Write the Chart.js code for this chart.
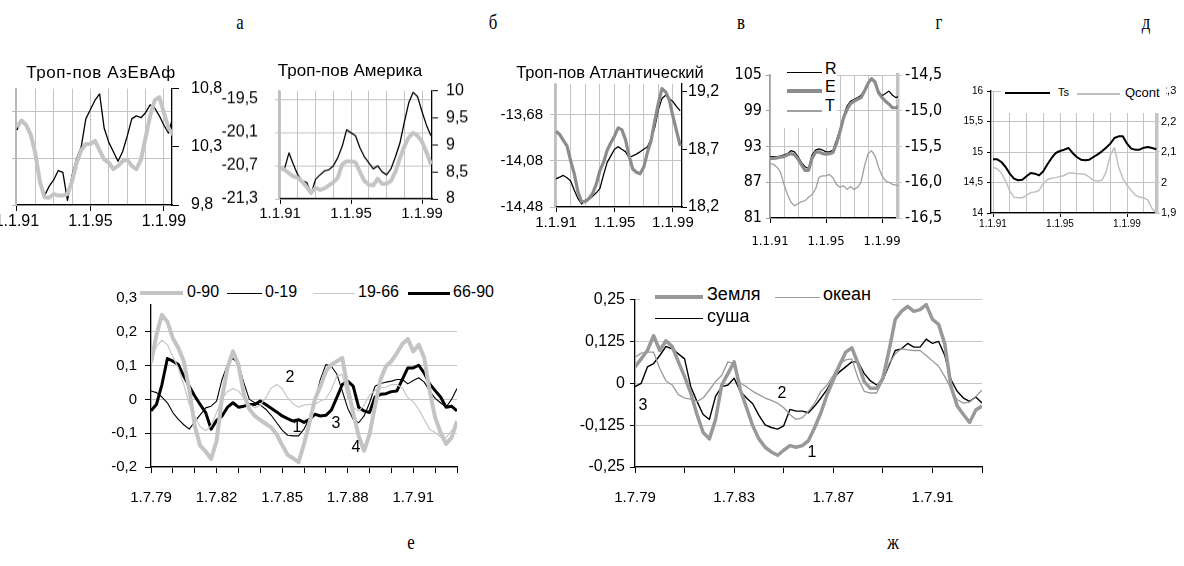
<!DOCTYPE html>
<html lang="ru">
<head>
<meta charset="UTF-8">
<title>Тропосфера и приземная температура</title>
<style>
  html, body { margin: 0; padding: 0; background: #fff; }
  #page { position: relative; width: 1184px; height: 566px; overflow: hidden; font-family: 'Liberation Sans', Arial, sans-serif; color: #000; }
  #page canvas { position: absolute; }
  .t { position: absolute; transform: translate(0, -50%); line-height: 1; white-space: nowrap; }
  .c { position: absolute; transform: translate(-50%, -50%); line-height: 1; white-space: nowrap; }
  .let { position: absolute; transform: translate(-50%, -50%) scaleX(0.8); font-family: 'Liberation Serif', 'DejaVu Serif', serif; font-size: 21px; line-height: 1; }
  .box { position: absolute; background: #fff; }
  .ln { position: absolute; }
</style>
<script src="https://cdn.jsdelivr.net/npm/chart.js"></script>
</head>
<body>
<div id="page">
  <div id="charts"></div>

  <div class="let" style="left:240px;top:22px">а</div>
  <div class="let" style="left:493px;top:22px">б</div>
  <div class="let" style="left:741px;top:22px">в</div>
  <div class="let" style="left:939px;top:22px">г</div>
  <div class="let" style="left:1146px;top:22px">д</div>
  <div class="let" style="left:411px;top:542px">е</div>
  <div class="let" style="left:893px;top:542px">ж</div>

  <div class="c" style="left:101px;top:72px;font-size:17px;letter-spacing:0.6px">Троп-пов АзЕвАф</div>
  <div class="c" style="left:350px;top:70px;font-size:17px">Троп-пов Америка</div>
  <div class="c" style="left:610px;top:72px;font-size:16.5px">Троп-пов Атлантический</div>

  <!-- legend г -->
  <div class="box" style="left:771px;top:58px;width:66px;height:70px"></div>
  <div class="ln" style="left:787px;top:72px;width:35px;height:1.3px;background:#000"></div>
  <div class="ln" style="left:787px;top:89px;width:35px;height:3.5px;background:#8c8c8c"></div>
  <div class="ln" style="left:787px;top:110px;width:35px;height:1.5px;background:#a0a0a0"></div>
  <div class="t" style="left:825px;top:69px;font-size:16px">R</div>
  <div class="t" style="left:825px;top:87px;font-size:16px">E</div>
  <div class="t" style="left:825px;top:106px;font-size:16px">T</div>

  <!-- legend д -->
  <div class="box" style="left:1001px;top:82px;width:165px;height:31px"></div>
  <div class="ln" style="left:1005px;top:92px;width:45px;height:2px;background:#000"></div>
  <div class="t" style="left:1058px;top:92px;font-size:11px">Ts</div>
  <div class="ln" style="left:1077px;top:93px;width:43px;height:1.5px;background:#c0c0c0"></div>
  <div class="t" style="left:1125px;top:92px;font-size:13px">Qcont</div>

  <!-- legend е -->
  <div class="box" style="left:140px;top:283px;width:362px;height:21px"></div>
  <div class="ln" style="left:140px;top:291px;width:43px;height:4px;background:#c4c4c4"></div>
  <div class="t" style="left:187px;top:292px;font-size:16px">0-90</div>
  <div class="ln" style="left:227px;top:292.5px;width:35px;height:1px;background:#000"></div>
  <div class="t" style="left:265px;top:292px;font-size:16px">0-19</div>
  <div class="ln" style="left:313px;top:292.5px;width:42px;height:1px;background:#c8c8c8"></div>
  <div class="t" style="left:358px;top:292px;font-size:16px">19-66</div>
  <div class="ln" style="left:408px;top:291.5px;width:42px;height:3px;background:#000"></div>
  <div class="t" style="left:453px;top:292px;font-size:16px">66-90</div>

  <!-- legend ж -->
  <div class="box" style="left:640px;top:283px;width:252px;height:42px"></div>
  <div class="ln" style="left:655px;top:295px;width:48px;height:3.5px;background:#999"></div>
  <div class="t" style="left:707px;top:294px;font-size:18px">Земля</div>
  <div class="ln" style="left:775px;top:296.5px;width:45px;height:1.5px;background:#999"></div>
  <div class="t" style="left:823px;top:294px;font-size:18px">океан</div>
  <div class="ln" style="left:655px;top:317.5px;width:48px;height:1.5px;background:#000"></div>
  <div class="t" style="left:707px;top:316px;font-size:18px">суша</div>

  <!-- curve numbers -->
  <div class="c" style="left:290px;top:377px;font-size:16px">2</div>
  <div class="c" style="left:297px;top:427px;font-size:16px">1</div>
  <div class="c" style="left:336px;top:423px;font-size:16px">3</div>
  <div class="c" style="left:356px;top:447px;font-size:16px">4</div>
  <div class="c" style="left:782px;top:393px;font-size:16px">2</div>
  <div class="c" style="left:812px;top:452px;font-size:16px">1</div>
  <div class="c" style="left:643px;top:405px;font-size:16px">3</div>
</div>

<script>
// quarter-year time points
const quarters91 = [1991, 1991.25, 1991.5, 1991.75, 1992, 1992.25, 1992.5, 1992.75, 1993, 1993.25, 1993.5, 1993.75,
  1994, 1994.25, 1994.5, 1994.75, 1995, 1995.25, 1995.5, 1995.75, 1996, 1996.25, 1996.5, 1996.75,
  1997, 1997.25, 1997.5, 1997.75, 1998, 1998.25, 1998.5, 1998.75, 1999, 1999.25, 1999.5, 1999.75,
  2000, 2000.25, 2000.5, 2000.75];
const quarters79 = [1979.5, 1979.75, 1980, 1980.25, 1980.5, 1980.75, 1981, 1981.25, 1981.5, 1981.75,
  1982, 1982.25, 1982.5, 1982.75, 1983, 1983.25, 1983.5, 1983.75, 1984, 1984.25, 1984.5, 1984.75,
  1985, 1985.25, 1985.5, 1985.75, 1986, 1986.25, 1986.5, 1986.75, 1987, 1987.25, 1987.5, 1987.75,
  1988, 1988.25, 1988.5, 1988.75, 1989, 1989.25, 1989.5, 1989.75, 1990, 1990.25, 1990.5, 1990.75,
  1991, 1991.25, 1991.5, 1991.75, 1992, 1992.25, 1992.5, 1992.75, 1993, 1993.25, 1993.5];

// tick positions and labelled ticks
const years91to99 = [1991, 1992, 1993, 1994, 1995, 1996, 1997, 1998, 1999];
const years91to00 = [1991, 1992, 1993, 1994, 1995, 1996, 1997, 1998, 1999, 2000];
const labelYears91 = [1991, 1995, 1999];
const yearsE = [1979.5, 1980.5, 1981.5, 1982.5, 1983.5, 1984.5, 1985.5, 1986.5, 1987.5, 1988.5, 1989.5, 1990.5, 1991.5, 1992.5, 1993.5];
const labelYearsE = [1979.5, 1982.5, 1985.5, 1988.5, 1991.5];
const yearsZh = [1979.5, 1981.5, 1983.5, 1985.5, 1987.5, 1989.5, 1991.5, 1993.5];
const labelYearsZh = [1979.5, 1983.5, 1987.5, 1991.5];

// а: Троп-пов АзЕвАф
const azevafTicks = [9.8, 10.3, 10.8];
const azevafBlack = [10.445, 10.526, 10.499, 10.418, 10.23, 9.975, 9.88, 9.96, 10.015, 10.096, 10.08, 9.84, 10.055, 10.2, 10.3,
  10.54, 10.62, 10.7, 10.754, 10.459, 10.338, 10.257, 10.176, 10.257, 10.39, 10.54, 10.566, 10.55, 10.593, 10.66,
  10.633, 10.566, 10.485, 10.418, 10.566];
const azevafGray = [10.472, 10.526, 10.486, 10.405, 10.244, 10.002, 9.867, 9.862, 9.894, 9.881, 9.881, 9.894, 10.002, 10.163,
  10.27, 10.324, 10.324, 10.351, 10.27, 10.19, 10.163, 10.109, 10.136, 10.176, 10.19, 10.136, 10.109, 10.19, 10.378,
  10.566, 10.7, 10.727, 10.593, 10.459, 10.405];

// б: Троп-пов Америка
const americaLeftTicks = [-21.3, -20.7, -20.1, -19.5];
const americaRightTicks = [8, 8.5, 9, 9.5, 10];
const americaBlack = [8.572, 8.556, 8.85, 8.639, 8.444, 8.333, 8.306, 8.094, 8.361, 8.444, 8.517, 8.539, 8.611, 8.761, 8.972,
  9.278, 9.222, 9.167, 8.944, 8.778, 8.667, 8.556, 8.611, 8.5, 8.444, 8.556, 8.778, 9.028, 9.417, 9.778, 9.972,
  9.889, 9.611, 9.361, 9.167];
const americaGray = [8.572, 8.539, 8.472, 8.417, 8.389, 8.317, 8.222, 8.111, 8.206, 8.167, 8.194, 8.25, 8.306, 8.389, 8.639,
  8.694, 8.694, 8.678, 8.5, 8.333, 8.261, 8.25, 8.372, 8.278, 8.278, 8.333, 8.5, 8.75, 8.972, 9.139, 9.222, 9.167,
  9.056, 8.861, 8.639];

// в: Троп-пов Атлантический
const atlLeftTicks = [-14.48, -14.08, -13.68];
const atlRightTicks = [18.2, 18.7, 19.2];
const atlBlack = [18.445, 18.459, 18.474, 18.454, 18.425, 18.345, 18.274, 18.226, 18.26, 18.266, 18.294, 18.323, 18.36, 18.479,
  18.587, 18.644, 18.701, 18.724, 18.701, 18.681, 18.63, 18.644, 18.659, 18.679, 18.701, 18.721, 18.787, 18.887,
  19.043, 19.143, 19.171, 19.143, 19.115, 19.072, 19.035];
const atlGray = [18.858, 18.83, 18.778, 18.73, 18.602, 18.488, 18.331, 18.246, 18.246, 18.274, 18.317, 18.397, 18.516, 18.587,
  18.693, 18.758, 18.815, 18.887, 18.872, 18.787, 18.644, 18.53, 18.502, 18.488, 18.545, 18.673, 18.773, 18.944, 19.1,
  19.228, 19.2, 19.129, 18.986, 18.858, 18.73];

// г: R, E, T
const gLeftTicks = [81, 87, 93, 99, 105];
const gRightTicks = [-16.5, -16, -15.5, -15, -14.5];
const seriesR = [91.3, 91.3, 91.3, 91.4, 91.6, 91.8, 92.3, 92.1, 91.3, 90.3, 89.6, 89.3, 91.6, 92.4, 92.6, 92.4, 92.1, 92.1, 92.4,
  94.1, 95.8, 98.1, 99.8, 100.6, 100.9, 101.2, 101.6, 102.5, 103.7, 104.4, 104.0, 102.3, 101.5, 101.9, 102.3, 101.6, 101.2, 101.5];
const seriesE = [91.0, 91.0, 91.1, 91.2, 91.3, 91.6, 91.8, 91.6, 90.9, 89.9, 89.0, 89.0, 91.0, 92.0, 92.1, 91.8, 91.7, 91.8, 92.0,
  93.5, 95.5, 97.8, 99.2, 100.2, 100.6, 100.9, 101.2, 102.3, 103.6, 104.4, 103.8, 102.0, 101.2, 100.6, 100.1, 99.5, 99.5, 99.8];
const seriesT = [-15.74, -15.75, -15.79, -15.86, -16.03, -16.17, -16.28, -16.33, -16.30, -16.27, -16.26, -16.21, -16.17, -16.10,
  -15.93, -15.91, -15.91, -15.89, -15.94, -16.03, -16.07, -16.05, -16.10, -16.06, -16.10, -16.07, -16.00, -15.77, -15.60,
  -15.56, -15.63, -15.79, -15.91, -15.98, -16.00, -16.03, -16.04, -16.06];

// д: Ts, Qcont
const dLeftTicks = [14, 14.5, 15, 15.5, 16];
const dRightTicks = [1.9, 2, 2.1, 2.2, 2.3];
const seriesTs = [14.88, 14.88, 14.836, 14.754, 14.645, 14.563, 14.536, 14.546, 14.601, 14.656, 14.645, 14.617, 14.683, 14.798,
  14.902, 14.984, 15.016, 15.038, 15.066, 14.984, 14.918, 14.874, 14.863, 14.874, 14.918, 14.962, 15.011, 15.071, 15.137,
  15.23, 15.257, 15.257, 15.137, 15.055, 15.038, 15.038, 15.071, 15.082, 15.066, 15.044];
const seriesQcont = [2.049, 2.045, 2.031, 2.005, 1.972, 1.952, 1.95, 1.95, 1.958, 1.967, 1.969, 1.974, 1.996, 2.01, 2.014, 2.016,
  2.02, 2.023, 2.031, 2.031, 2.029, 2.029, 2.027, 2.018, 2.007, 2.005, 2.007, 2.034, 2.089, 2.114, 2.051, 2.013, 1.991,
  1.974, 1.958, 1.952, 1.95, 1.942, 1.914, 1.9];

// е: latitude belts
const eTicks = [-0.2, -0.1, 0, 0.1, 0.2, 0.3];
const belt0090 = [0.108, 0.191, 0.25, 0.23, 0.181, 0.152, 0.113, 0.029, -0.078, -0.137, -0.154, -0.176, -0.123, 0.005, 0.093,
  0.142, 0.103, 0.015, -0.029, -0.049, -0.061, -0.072, -0.083, -0.103, -0.135, -0.164, -0.174, -0.186, -0.132, -0.069,
  0.0, 0.039, 0.083, 0.103, 0.113, 0.123, 0.034, -0.039, -0.108, -0.152, -0.103, -0.02, 0.059, 0.098, 0.113, 0.137,
  0.164, 0.179, 0.142, 0.162, 0.123, 0.025, -0.054, -0.098, -0.132, -0.113, -0.064];
const belt0019 = [0.025, 0.02, 0.007, -0.01, -0.039, -0.059, -0.075, -0.088, -0.066, -0.046, -0.025, -0.02, -0.005, 0.059, 0.103,
  0.121, 0.105, 0.049, 0.0, -0.01, -0.017, -0.029, -0.047, -0.069, -0.091, -0.106, -0.108, -0.108, -0.088, -0.054,
  -0.005, 0.059, 0.103, 0.098, 0.075, 0.025, -0.026, -0.059, -0.069, -0.049, -0.01, 0.039, 0.047, 0.051, 0.054, 0.059,
  0.059, 0.046, 0.056, 0.064, 0.051, 0.025, 0.003, -0.01, -0.023, 0.0, 0.032];
const belt1966 = [0.113, 0.157, 0.175, 0.162, 0.127, 0.093, 0.044, -0.015, -0.049, -0.081, -0.093, -0.078, -0.039, 0.003, 0.023,
  0.032, 0.025, 0.003, -0.015, -0.025, -0.017, 0.005, 0.034, 0.044, 0.032, 0.005, -0.013, -0.023, -0.017, -0.015,
  -0.015, -0.005, 0.002, 0.029, 0.069, 0.074, 0.005, -0.023, -0.034, -0.017, 0.013, 0.026, 0.034, 0.036, 0.044, 0.044,
  0.034, 0.005, -0.007, -0.029, -0.059, -0.088, -0.098, -0.111, -0.113, -0.093, -0.074];
const belt6690 = [-0.034, -0.015, 0.044, 0.121, 0.113, 0.103, 0.069, 0.039, 0.01, -0.015, -0.039, -0.088, -0.062, -0.049, -0.023,
  -0.01, -0.023, -0.02, -0.015, -0.015, -0.005, -0.015, -0.026, -0.037, -0.049, -0.057, -0.064, -0.06, -0.068, -0.059,
  -0.044, -0.049, -0.047, -0.032, 0.005, 0.044, 0.054, 0.039, -0.023, -0.034, -0.039, 0.007, 0.015, 0.017, 0.023, 0.025,
  0.059, 0.093, 0.093, 0.101, 0.078, 0.046, 0.026, 0.007, -0.023, -0.02, -0.034];

// ж: Земля, океан, суша
const zhTicks = [-0.25, -0.125, 0, 0.125, 0.25];
const earth = [0.049, 0.073, 0.098, 0.142, 0.098, 0.127, 0.11, 0.064, 0.02, -0.029, -0.093, -0.147, -0.166, -0.108, -0.005, 0.029,
  0.064, -0.02, -0.073, -0.127, -0.166, -0.191, -0.205, -0.215, -0.2, -0.186, -0.191, -0.186, -0.171, -0.132, -0.088,
  -0.034, 0.01, 0.054, 0.093, 0.106, 0.059, 0.005, -0.015, -0.015, 0.015, 0.098, 0.191, 0.215, 0.23, 0.215, 0.22, 0.235,
  0.191, 0.176, 0.117, -0.01, -0.068, -0.093, -0.117, -0.08, -0.068];
const ocean = [0.078, 0.09, 0.093, 0.093, 0.044, 0.007, -0.005, -0.034, -0.044, -0.047, -0.054, -0.044, -0.02, 0.005, 0.024, 0.064,
  0.059, 0.0, -0.01, -0.024, -0.034, -0.044, -0.051, -0.059, -0.073, -0.093, -0.108, -0.103, -0.083, -0.059, -0.024,
  -0.005, 0.024, 0.059, 0.07, 0.073, 0.015, -0.024, -0.029, -0.029, 0.01, 0.059, 0.088, 0.103, 0.1, 0.098, 0.098, 0.083,
  0.067, 0.051, 0.02, -0.015, -0.049, -0.059, -0.056, -0.039, -0.02];
const land = [-0.01, 0.0, 0.049, 0.059, 0.083, 0.11, 0.103, 0.088, 0.073, -0.01, -0.054, -0.093, -0.108, -0.039, -0.01, -0.005,
  0.015, -0.024, -0.044, -0.061, -0.096, -0.124, -0.132, -0.137, -0.127, -0.078, -0.083, -0.083, -0.088, -0.068, -0.044,
  -0.018, 0.015, 0.034, 0.049, 0.064, 0.064, 0.029, 0.007, -0.005, 0.01, 0.054, 0.098, 0.103, 0.119, 0.108, 0.108, 0.132,
  0.119, 0.125, 0.083, 0.01, -0.024, -0.044, -0.054, -0.041, -0.059];

const SANS = "'Liberation Sans', Arial, sans-serif";
const NARROW = "'Liberation Sans Narrow', 'DejaVu Sans Condensed', 'Liberation Sans', sans-serif";
Chart.defaults.font.family = SANS;
Chart.defaults.color = '#000';

function comma(v, d) {
  const s = d == null ? String(+v.toFixed(3)) : v.toFixed(d);
  return s.replace('.', ',');
}
const fmt91 = v => '1.1.' + String(v).slice(2);
const fmtJul = v => '1.7.' + String(Math.floor(v)).slice(2);

function line(xs, ys, color, width, axis) {
  return {
    data: ys.map((y, i) => ({ x: xs[i], y: y })),
    borderColor: color, borderWidth: width, pointRadius: 0, tension: 0,
    fill: false, yAxisID: axis, borderJoinStyle: 'round'
  };
}

function xAxis(o) {
  return {
    type: 'linear', position: 'bottom', min: o.min, max: o.max,
    afterBuildTicks: a => { a.ticks = o.grid.map(v => ({ value: v })); },
    afterFit: s => { s.height = o.height; },
    ticks: {
      autoSkip: false, maxRotation: 0, padding: o.pad,
      font: { family: o.family || SANS, size: o.size },
      callback: v => o.labels.includes(v) ? o.fmt(v) : ''
    },
    grid: {
      drawOnChartArea: !!o.vgrid, color: '#c4c4c4', lineWidth: 1, tickLength: o.tick,
      tickColor: ctx => (o.allTicks || (ctx.tick && o.labels.includes(ctx.tick.value))) ? '#000' : 'rgba(0,0,0,0)'
    },
    border: { color: '#000', width: 1.3 }
  };
}

function yAxis(o) {
  return {
    type: 'linear', position: o.pos, min: o.min, max: o.max,
    afterBuildTicks: a => { a.ticks = o.ticks.map(v => ({ value: v })); },
    afterFit: s => { s.width = o.width; },
    ticks: {
      padding: o.pad, font: { family: o.family || SANS, size: o.size },
      callback: v => o.hide ? '' : comma(v, o.dec)
    },
    grid: { drawOnChartArea: !!o.hgrid, color: '#c4c4c4', lineWidth: 1, tickLength: o.tick, tickColor: o.axisColor || '#000' },
    border: { color: o.axisColor || '#000', width: o.axisWidth || 1.3 }
  };
}

function panel(b, datasets, scales) {
  const c = document.createElement('canvas');
  const W = b.w + b.pl + b.pr, H = b.h + b.pt + b.pb;
  c.width = W; c.height = H;
  c.style.left = (b.l - b.pl) + 'px';
  c.style.top = (b.t - b.pt) + 'px';
  c.style.width = W + 'px';
  c.style.height = H + 'px';
  document.getElementById('charts').appendChild(c);
  return new Chart(c, {
    type: 'line',
    data: { datasets },
    options: {
      responsive: false, animation: false, devicePixelRatio: 1,
      layout: { padding: { top: b.pt, left: 0, right: b.padR || 0, bottom: 0 } },
      plugins: { legend: { display: false }, tooltip: { enabled: false } },
      scales
    }
  });
}

// а
panel({ l: 16, t: 81, w: 156, h: 124, pl: 40, pr: 50, pt: 14, pb: 30 }, [
  line(quarters91, azevafGray, '#c4c4c4', 4, 'yR'),
  line(quarters91, azevafBlack, '#000', 1.3, 'yR')
], {
  x: xAxis({ min: 1990.95, max: 1999.44, grid: years91to99, labels: labelYears91, fmt: fmt91, height: 30, tick: 6, pad: 1, size: 16, vgrid: true }),
  yL: yAxis({ pos: 'left', min: 0, max: 2.48, ticks: [0, 1, 2], width: 40, tick: 4, pad: 2, size: 14, hide: true, hgrid: true, axisColor: '#b8b8b8', axisWidth: 2 }),
  yR: yAxis({ pos: 'right', min: 9.8, max: 10.8, ticks: azevafTicks, width: 50, tick: 7, pad: 12, size: 16 })
});

// б
panel({ l: 279, t: 78, w: 153, h: 120.5, pl: 75, pr: 45, pt: 14, pb: 30 }, [
  line(quarters91, americaGray, '#c4c4c4', 4, 'yR'),
  line(quarters91, americaBlack, '#000', 1.3, 'yR')
], {
  x: xAxis({ min: 1990.94, max: 1999.56, grid: years91to99, labels: labelYears91, fmt: fmt91, height: 30, tick: 5, pad: 1, size: 15, vgrid: true }),
  yL: yAxis({ pos: 'left', min: -21.3, max: -19.346, ticks: americaLeftTicks, width: 75, tick: 4, pad: 17, size: 16, hgrid: true, axisColor: '#c0c0c0', axisWidth: 2 }),
  yR: yAxis({ pos: 'right', min: 8, max: 10, ticks: americaRightTicks, width: 45, tick: 6, pad: 8, size: 16 })
});

// в
panel({ l: 555, t: 82, w: 127, h: 125, pl: 65, pr: 40, pt: 14, pb: 30 }, [
  line(quarters91, atlGray, '#8c8c8c', 3.2, 'yR'),
  line(quarters91, atlBlack, '#000', 1.3, 'yR')
], {
  x: xAxis({ min: 1990.93, max: 1999.62, grid: years91to99, labels: labelYears91, fmt: fmt91, height: 30, tick: 5, pad: 2, size: 15, vgrid: true }),
  yL: yAxis({ pos: 'left', min: -14.48, max: -13.416, ticks: atlLeftTicks, width: 65, tick: 5, pad: 7, size: 15, dec: 2, hgrid: true, axisColor: '#c0c0c0', axisWidth: 2 }),
  yR: yAxis({ pos: 'right', min: 18.2, max: 19.268, ticks: atlRightTicks, width: 40, tick: 5, pad: 1, size: 16 })
});

// г
panel({ l: 770, t: 75, w: 128, h: 143, pl: 35, pr: 45, pt: 14, pb: 34 }, [
  line(quarters91, seriesT, '#a0a0a0', 1.3, 'yR'),
  line(quarters91, seriesE, '#8c8c8c', 3.2, 'yL'),
  line(quarters91, seriesR, '#000', 1.2, 'yL')
], {
  x: xAxis({ min: 1991, max: 2000.14, grid: years91to00, labels: labelYears91, fmt: fmt91, height: 34, tick: 5, pad: 11, size: 13, family: NARROW, vgrid: true }),
  yL: yAxis({ pos: 'left', min: 81, max: 105, ticks: gLeftTicks, width: 35, tick: 4, pad: 4, size: 16, family: NARROW, hgrid: true, axisColor: '#a0a0a0', axisWidth: 1.5 }),
  yR: yAxis({ pos: 'right', min: -16.5, max: -14.5, ticks: gRightTicks, width: 45, tick: 4, pad: 3, size: 16, family: NARROW, dec: 1, axisColor: '#c4c4c4', axisWidth: 3.5 })
});

// д
panel({ l: 991, t: 91, w: 166, h: 122, pl: 35, pr: 30, pt: 12, pb: 20 }, [
  line(quarters91, seriesQcont, '#c0c0c0', 1.5, 'yR'),
  line(quarters91, seriesTs, '#000', 2, 'yL')
], {
  x: xAxis({ min: 1990.88, max: 2000.79, grid: years91to00, labels: labelYears91, fmt: fmt91, height: 20, tick: 4, pad: 1, size: 10, vgrid: true }),
  yL: yAxis({ pos: 'left', min: 14, max: 16, ticks: dLeftTicks, width: 35, tick: 4, pad: 4, size: 10, hgrid: true }),
  yR: yAxis({ pos: 'right', min: 1.9, max: 2.3, ticks: dRightTicks, width: 30, tick: 3, pad: 1, size: 11, axisColor: '#c4c4c4', axisWidth: 3.5 })
});

// е
panel({ l: 151, t: 293, w: 310, h: 174, pl: 60, pr: 12, pt: 12, pb: 40, padR: 12 }, [
  line(quarters79, belt0090, '#c4c4c4', 4, 'y'),
  line(quarters79, belt1966, '#c8c8c8', 1.2, 'y'),
  line(quarters79, belt0019, '#000', 1.1, 'y'),
  line(quarters79, belt6690, '#000', 3, 'y')
], {
  x: xAxis({ min: 1979.5, max: 1993.5, grid: yearsE, labels: labelYearsE, fmt: fmtJul, height: 40, tick: 6, pad: 16, size: 15, allTicks: true }),
  y: yAxis({ pos: 'left', min: -0.2, max: 0.3, ticks: eTicks, width: 60, tick: 6, pad: 8, size: 15, hgrid: true })
});

// ж
panel({ l: 635, t: 296.7, w: 351, h: 170.6, pl: 75, pr: 12, pt: 12, pb: 40, padR: 12 }, [
  line(quarters79, earth, '#999', 3.5, 'y'),
  line(quarters79, ocean, '#999', 1.3, 'y'),
  line(quarters79, land, '#000', 1.4, 'y')
], {
  x: xAxis({ min: 1979.5, max: 1993.5, grid: yearsZh, labels: labelYearsZh, fmt: fmtJul, height: 40, tick: 6, pad: 16, size: 15, allTicks: true }),
  y: yAxis({ pos: 'left', min: -0.25, max: 0.25, ticks: zhTicks, width: 75, tick: 5, pad: 5, size: 16, hgrid: true })
});
</script>
</body>
</html>
